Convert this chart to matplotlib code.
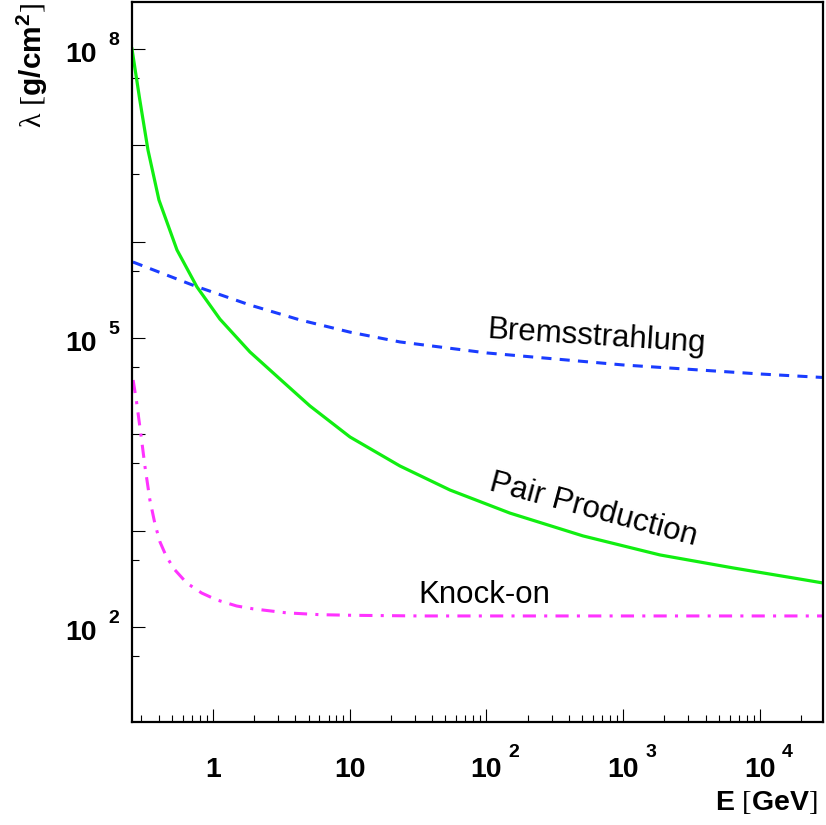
import matplotlib
matplotlib.use("Agg")
import matplotlib.pyplot as plt
from matplotlib.ticker import FixedLocator, NullFormatter

plt.rcParams['font.family'] = ['Liberation Sans', 'DejaVu Sans']
plt.rcParams['mathtext.fontset'] = 'custom'
plt.rcParams['mathtext.rm'] = 'Liberation Serif'
plt.rcParams['mathtext.bf'] = 'Liberation Sans:bold'
plt.rcParams['mathtext.it'] = 'Liberation Sans:italic'

# pair production (green, solid)
e_pair = [0.256, 0.292, 0.335, 0.403, 0.546, 0.764, 1.125, 1.865, 3.09, 5.12,
          10.05, 23.3, 54.1, 148.5, 508, 1857, 6350, 17400, 28900]
lam_pair = [1.0e8, 2.96e7, 8.95e6, 2.71e6, 8.2e5, 3.39e5, 1.57e5, 7.16e4, 3.75e4, 1.97e4,
            9.38e3, 4.69e3, 2.64e3, 1.52e3, 881, 559, 410, 323, 286]

# bremsstrahlung (blue, dashed)
e_brems = [0.26, 0.738, 1.865, 4.33, 10.05, 23.3, 101, 996, 10000, 28900]
lam_brems = [6.15e5, 3.47e5, 2.2e5, 1.54e5, 1.15e5, 9.1e4, 6.99e4, 5.25e4, 4.23e4, 3.89e4]

# knock-on (magenta, dash-dot)
e_knock = [0.261, 0.277, 0.301, 0.318, 0.346, 0.377, 0.41, 0.458, 0.527, 0.643,
           0.827, 1.064, 1.49, 1.97, 3.46, 6.06, 10.6, 32.6, 947, 28900]
lam_knock = [3.66e4, 2.12e4, 8.73e3, 4.69e3, 2.08e3, 1.17e3, 763, 533, 391, 286,
             225, 191, 165, 154, 140, 134, 132, 130, 130, 130]

x_decades = [0, 1, 2, 3, 4]
y_decades = [2, 5, 8]

fig = plt.figure(figsize=(8.26, 8.25), dpi=100)
ax = fig.add_axes([132 / 826, 103 / 825, 691 / 826, 720 / 825])
ax.set_xscale('log')
ax.set_yscale('log')

ax.plot(e_pair, lam_pair, color='#11ee11', lw=2.3)
ax.plot(e_brems, lam_brems, color='#1a3cff', lw=2.2, dashes=(3.3, 2.7))
ax.plot(e_knock, lam_knock, color='#ff33ff', lw=2.2, dashes=(4.3, 2.7, 1, 2.7))

ax.set_xlim(0.256, 2.89e4)
ax.set_ylim(10.3, 3.08e8)

# ticks, root style
ax.xaxis.set_major_locator(FixedLocator([10.0 ** n for n in range(0, 5)]))
ax.xaxis.set_minor_locator(FixedLocator([k * 10.0 ** n for n in range(-1, 5) for k in range(2, 10)]))
ax.yaxis.set_major_locator(FixedLocator([10.0 ** n for n in range(1, 9)]))
ax.yaxis.set_minor_locator(FixedLocator([5 * 10.0 ** n for n in range(1, 9)]))
ax.xaxis.set_major_formatter(NullFormatter())
ax.xaxis.set_minor_formatter(NullFormatter())
ax.yaxis.set_major_formatter(NullFormatter())
ax.yaxis.set_minor_formatter(NullFormatter())
ax.tick_params(which='major', direction='in', length=9.4, width=0.8, top=False, right=False)
ax.tick_params(which='minor', direction='in', length=5, width=0.8, top=False, right=False)
for s in ax.spines.values():
    s.set_linewidth(1.6)

# tick labels "10 ^n"
big = 20.5
small = 14
for n in x_decades:
    main = "1" if n == 0 else "10"
    ax.annotate(main, xy=(10.0 ** n, 0), xycoords=('data', 'axes fraction'),
                xytext=(0, -55), textcoords='offset pixels', ha='center', va='baseline',
                fontsize=big, fontweight='bold')
    if n >= 2:
        ax.annotate(str(n), xy=(10.0 ** n, 0), xycoords=('data', 'axes fraction'),
                    xytext=(22, -35), textcoords='offset pixels', ha='left', va='baseline',
                    fontsize=small, fontweight='bold')
for n in y_decades:
    ax.annotate("10", xy=(0, 10.0 ** n), xycoords=('axes fraction', 'data'),
                xytext=(-35, -13), textcoords='offset pixels', ha='right', va='baseline',
                fontsize=big, fontweight='bold')
    ax.annotate(str(n), xy=(0, 10.0 ** n), xycoords=('axes fraction', 'data'),
                xytext=(-24, 4), textcoords='offset pixels', ha='left', va='baseline',
                fontsize=small, fontweight='bold')

# axis titles
fig.text(818 / 826, 1 - 810 / 825, r"$\mathbf{E}\ [\mathbf{GeV}]$", ha='right', va='baseline',
         fontsize=big)
fig.text(32 / 826, 1 - 3 / 825, r"$\mathrm{\lambda}\ [\mathbf{g/cm}^{\mathbf{2}}]$",
         rotation=90, ha='center', va='top', fontsize=21.5)

# curve labels
ax.text(643, 1.02e5, "Bremsstrahlung", rotation=-3.7, rotation_mode='anchor',
        ha='center', va='center', fontsize=22.5)
ax.text(601, 1.64e3, "Pair Production", rotation=-15, rotation_mode='anchor',
        ha='center', va='center', fontsize=22.5)
ax.text(31.6, 177, "Knock-on", ha='left', va='baseline', fontsize=22.5)

plt.savefig("out.png", dpi=100)
